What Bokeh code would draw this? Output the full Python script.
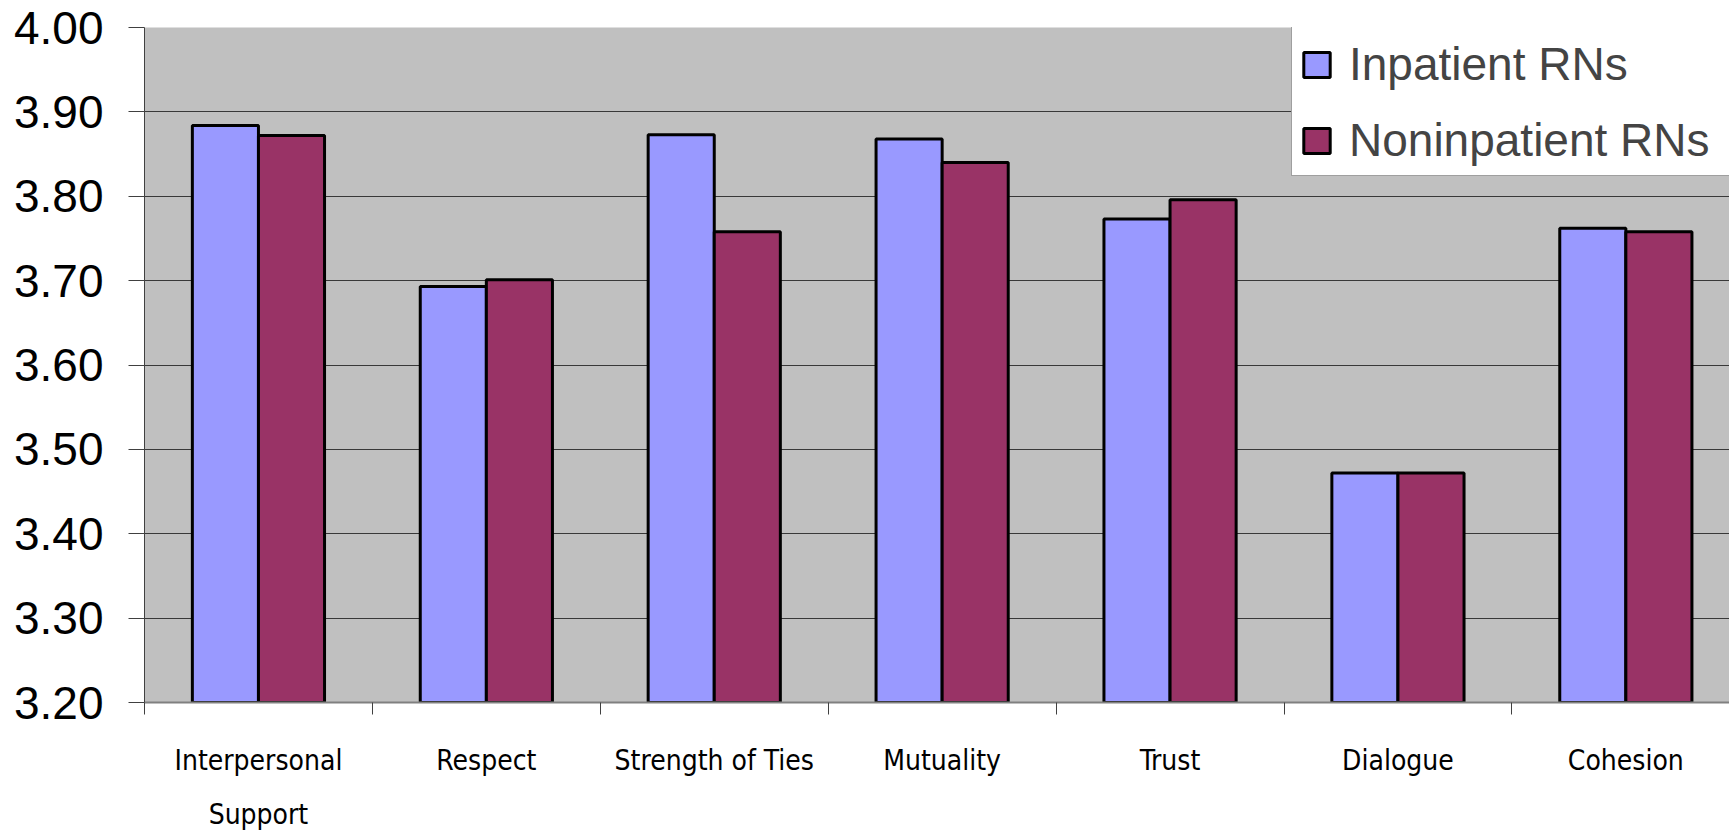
import numpy as np
from bokeh.plotting import figure
from bokeh.models import (ColumnDataSource, Range1d, FixedTicker, Legend, LegendItem,
                          NumeralTickFormatter)
from bokeh.embed import file_html
from bokeh.resources import INLINE

categories = ["Interpersonal\nSupport", "Respect", "Strength of Ties", "Mutuality",
              "Trust", "Dialogue", "Cohesion"]
inpatient = [3.884, 3.693, 3.873, 3.868, 3.773, 3.472, 3.762]
noninpatient = [3.872, 3.701, 3.758, 3.840, 3.796, 3.472, 3.758]
series_names = ["Inpatient RNs", "Noninpatient RNs"]
y_ticks = [3.20, 3.30, 3.40, 3.50, 3.60, 3.70, 3.80, 3.90, 4.00]

W, H = 1729, 833
LEFT, TOP, BOTTOM = 144, 27, 131
CAT_PX = 227.9
n = len(categories)
x_end = (W - LEFT) / CAT_PX

idx = np.arange(n) + 0.5
bw = 0.29
src = ColumnDataSource(dict(
    x1=idx - bw / 2, x2=idx + bw / 2,
    inp=inpatient, non=noninpatient,
))

p = figure(width=W, height=H, output_backend="svg", toolbar_location=None,
           x_range=Range1d(0, x_end), y_range=Range1d(y_ticks[0], y_ticks[-1]),
           min_border_left=LEFT, min_border_right=0, min_border_top=TOP,
           min_border_bottom=BOTTOM)
p.background_fill_color = "#C0C0C0"
p.border_fill_color = "white"
p.outline_line_color = None

r1 = p.vbar(x="x1", top="inp", bottom=y_ticks[0], width=bw, source=src,
            fill_color="#9999FF", line_color="black", line_width=3)
r2 = p.vbar(x="x2", top="non", bottom=y_ticks[0], width=bw, source=src,
            fill_color="#993366", line_color="black", line_width=3)

# grid
p.xgrid.visible = False
p.ygrid.ticker = FixedTicker(ticks=y_ticks)
p.ygrid.grid_line_color = "#383838"
p.ygrid.grid_line_width = 1

# y axis
ya = p.yaxis[0]
ya.ticker = FixedTicker(ticks=y_ticks)
ya.formatter = NumeralTickFormatter(format="0.00")
ya.major_label_text_font = "Liberation Sans"
ya.major_label_text_font_size = "46px"
ya.major_label_text_color = "black"
ya.major_tick_out = 16
ya.major_tick_in = 0
ya.minor_tick_line_color = None
ya.major_label_standoff = 25
ya.axis_line_color = "#404040"
ya.major_tick_line_color = "#404040"

# x axis
xa = p.xaxis[0]
xa.ticker = FixedTicker(ticks=list(idx), minor_ticks=list(range(n + 1)))
xa.major_label_overrides = {float(v): c for v, c in zip(idx, categories)}
xa.major_label_text_font = "'Liberation Sans Narrow', 'DejaVu Sans Condensed', sans-serif"
xa.major_label_text_font_size = "28px"
xa.major_label_text_line_height = 1.65
xa.major_label_text_color = "black"
xa.major_tick_out = 0
xa.major_tick_in = 0
xa.minor_tick_out = 12
xa.minor_tick_in = 0
xa.minor_tick_line_color = "#404040"
xa.major_label_standoff = 29
xa.axis_line_color = "#808080"
xa.axis_line_width = 2

legend = Legend(items=[LegendItem(label=series_names[0], renderers=[r1]),
                       LegendItem(label=series_names[1], renderers=[r2])],
                location=(1291 - LEFT, (H - BOTTOM) - 173 - 3))
legend.title = " "
legend.title_text_font_size = "12px"
legend.title_standoff = 5
legend.label_text_font = "Liberation Sans"
legend.label_text_font_size = "46px"
legend.glyph_width = 33
legend.glyph_height = 31
legend.label_standoff = 16
legend.label_width = 380
legend.padding = 8
legend.spacing = 22
legend.border_line_color = "#404040"
legend.border_line_width = 1
legend.background_fill_color = "white"
legend.background_fill_alpha = 1
legend.margin = 0
p.add_layout(legend, "center")

open("out.html", "w").write(file_html(p, INLINE))
